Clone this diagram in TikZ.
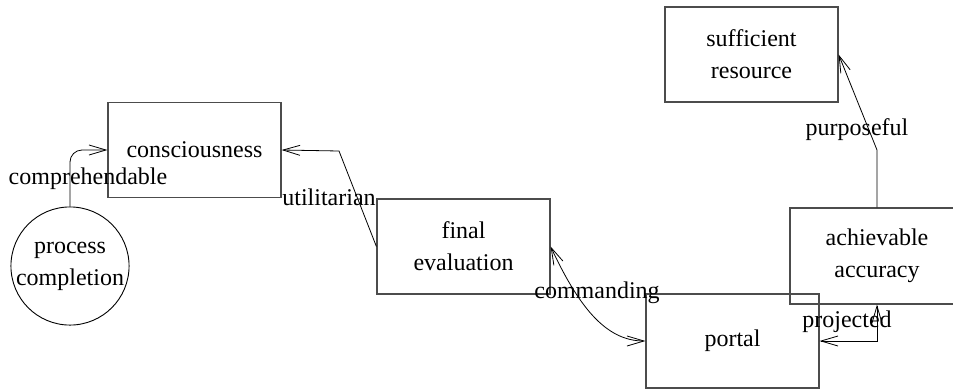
\documentclass[tikz,border=0pt]{standalone}
\usepackage{fontspec}
\setmainfont{Liberation Serif}
\usetikzlibrary{arrows.meta}
\begin{document}
\begin{tikzpicture}[x=1pt,y=-1pt,
  every node/.style={font=\fontsize{24}{32}\selectfont, inner sep=0pt},
  box/.style={draw=black!70, line width=1.2pt, rectangle, align=center, minimum width=173pt, minimum height=95pt},
  circ/.style={draw=black, line width=0.9pt, circle, align=center, minimum size=116pt},
  conn/.style={draw=black, line width=0.8pt, -{Straight Barb[length=17pt,width=10pt]}},
  bconn/.style={draw=black, line width=0.8pt, {Straight Barb[length=17pt,width=10pt]}-{Straight Barb[length=17pt,width=10pt]}},
  lbl/.style={}]
\useasboundingbox (0,0) rectangle (953,391);
\node[box] (cons) at (194.5,150) {consciousness};
\node[box] (fe) at (463.5,246.5) {final\\evaluation};
\node[box, minimum height=94pt] (portal) at (732.5,341) {portal};
\node[box, minimum width=174pt, minimum height=96pt] (acc) at (877,256) {achievable\\accuracy};
\node[box] (suf) at (751.5,54.5) {sufficient\\resource};
\node[circ] (pc) at (70,266) {process\\completion};
\coordinate (u1) at (339,151);
\coordinate (p1) at (877,150);
\draw[conn, rounded corners=12pt] (pc.north) |- (cons.west);
\draw[conn] (fe.west) -- (u1) -- (cons.east);
\draw[bconn] (fe.east) .. controls (578,305) and (605,341) .. (portal.west);
\draw[bconn] (acc.south) |- (portal.east);
\draw[conn] (acc.north) -- (p1) -- (suf.east);
\node[lbl] (l1) at (88,179) {comprehendable};
\node[lbl] (l2) at (329,197) {utilitarian};
\node[lbl] (l3) at (597,293) {commanding};
\node[lbl] (l4) at (847,322) {projected};
\node[lbl] (l5) at (857,130) {purposeful};
\end{tikzpicture}
\end{document}
